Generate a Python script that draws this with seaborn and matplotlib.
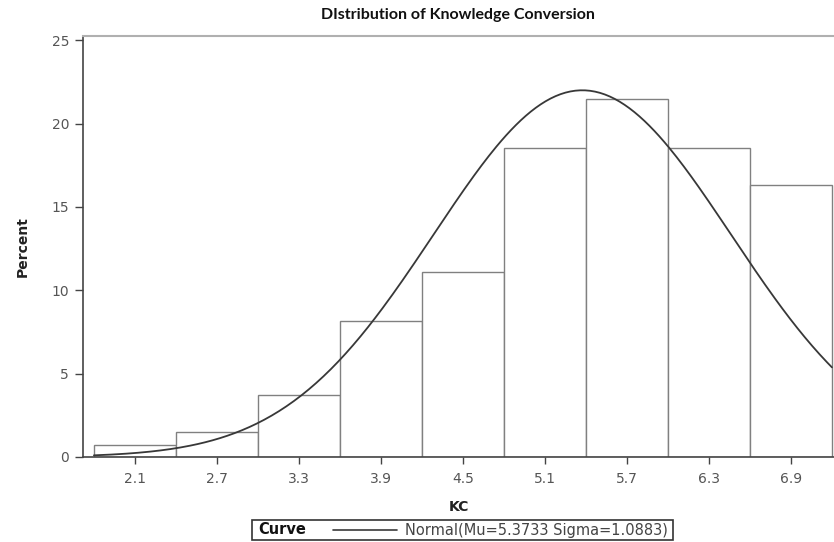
import numpy as np
import pandas as pd
import matplotlib
matplotlib.use("Agg")
import matplotlib.pyplot as plt
from matplotlib.lines import Line2D
from matplotlib.patches import Rectangle
import seaborn as sns

# Histogram of KC scores: bin midpoints and percent of respondents per bin
bin_mids = [2.1, 2.7, 3.3, 3.9, 4.5, 5.1, 5.7, 6.3, 6.9]
percents = [0.74, 1.48, 3.70, 8.15, 11.11, 18.52, 21.48, 18.52, 16.30]
bin_width = 0.6
tick_labels = ["2.1", "2.7", "3.3", "3.9", "4.5", "5.1", "5.7", "6.3", "6.9"]
y_ticks = [0, 5, 10, 15, 20, 25]

# Fitted normal parameters
mu = 5.3733
sigma = 1.0883

sns.set_style("white")
plt.rcParams["font.family"] = ["DejaVu Sans"]

fig = plt.figure(figsize=(8.34, 5.42), dpi=100)
ax = fig.add_axes([83 / 834, 1 - 457 / 542, 1 - 83 / 834, (457 - 36) / 542])

edges = [round(m - bin_width / 2, 2) for m in bin_mids] + [round(bin_mids[-1] + bin_width / 2, 2)]
df = pd.DataFrame({"KC": bin_mids, "pct": percents})
sns.histplot(data=df, x="KC", weights="pct", bins=edges, stat="count",
             color="white", edgecolor="#808080", linewidth=1.0, alpha=1,
             ax=ax)

# Normal density scaled to percent per bin
xs = np.linspace(edges[0], edges[-1], 300)
ys = 100 * bin_width * np.exp(-0.5 * ((xs - mu) / sigma) ** 2) / (sigma * np.sqrt(2 * np.pi))
sns.lineplot(x=xs, y=ys, color="#383838", linewidth=1.3, ax=ax)

ax.set_xlim(1.72, 7.215)
ax.set_ylim(0, 25.25)
ax.set_xticks(bin_mids)
ax.set_xticklabels(tick_labels)
ax.set_yticks(y_ticks)
ax.tick_params(axis="both", which="major", direction="out", width=1,
               color="#444444", labelsize=10, labelcolor="#555555",
               bottom=True, left=True)
ax.tick_params(axis="x", length=5, pad=6)
ax.tick_params(axis="y", length=6, pad=4)
for lab in ax.get_xticklabels() + ax.get_yticklabels():
    lab.set_family("DejaVu Sans")

for side in ["left", "bottom"]:
    ax.spines[side].set_color("#444444")
    ax.spines[side].set_linewidth(1.2)
ax.spines["top"].set_color("#b0b0b0")
ax.spines["top"].set_linewidth(1.5)
ax.spines["right"].set_visible(False)

ax.set_xlabel("KC", fontsize=10, fontweight="bold", color="#222222",
              labelpad=10, family="DejaVu Sans")
ax.set_ylabel("Percent", fontsize=10, fontweight="bold", color="#222222",
              labelpad=15.5, family="DejaVu Sans")

fig.text(458 / 834, 1 - 15 / 542, "DIstribution of Knowledge Conversion",
         ha="center", va="center", fontsize=11.5, fontweight="bold",
         family=["Lato", "DejaVu Sans"], color="#111111")

# Legend panel below the axes
fig.add_artist(Rectangle((252 / 834, 1 - 540 / 542), (673 - 252) / 834, 20 / 542,
                         transform=fig.transFigure, facecolor="white",
                         edgecolor="#333333", linewidth=1.2))
fig.text(258 / 834, 1 - 530 / 542, "Curve", ha="left", va="center",
         fontsize=10.5, fontweight="bold", color="#111111", family="DejaVu Sans")
fig.add_artist(Line2D([333 / 834, 397 / 834], [1 - 530 / 542, 1 - 530 / 542],
                      transform=fig.transFigure, color="#3a3a3a", linewidth=1.2))
fig.text(405 / 834, 1 - 530 / 542, "Normal(Mu=5.3733 Sigma=1.0883)",
         ha="left", va="center", fontsize=10.5, color="#444444",
         family="DejaVu Sans")

fig.savefig("out.png", dpi=100)
